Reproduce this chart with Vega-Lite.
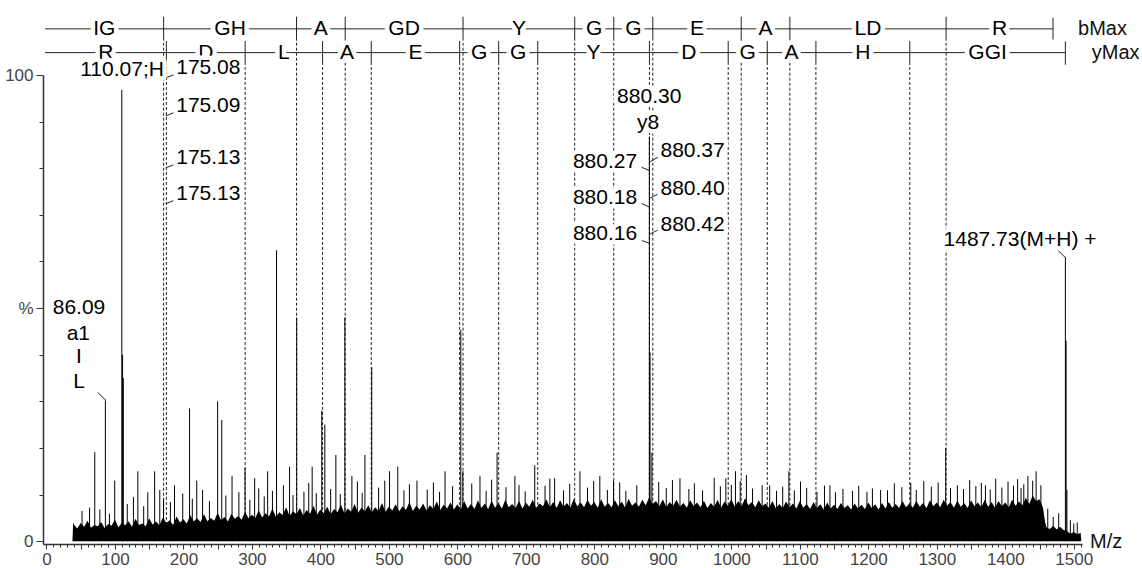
{
"$schema": "https://vega.github.io/schema/vega-lite/v6.json",
"width": 1039, "height": 469,
"autosize": "none",
"padding": {"left": 43, "top": 75, "right": 60, "bottom": 24},
"background": "white",
"config": {"view": {"stroke": null}, "font": "Liberation Sans"},
"datasets": {
"noise": [{"mz":38,"i":0},{"mz":39,"i":4.0},{"mz":40,"i":3.6},{"mz":45,"i":2.7},{"mz":50,"i":3.9},{"mz":55,"i":3.1},{"mz":60,"i":4.4},{"mz":65,"i":2.9},{"mz":70,"i":3.5},{"mz":75,"i":3.2},{"mz":80,"i":4.1},{"mz":85,"i":2.8},{"mz":90,"i":3.7},{"mz":95,"i":3.3},{"mz":100,"i":4.6},{"mz":105,"i":3.0},{"mz":110,"i":3.9},{"mz":115,"i":3.4},{"mz":120,"i":4.3},{"mz":125,"i":3.1},{"mz":130,"i":4.8},{"mz":135,"i":3.5},{"mz":140,"i":3.8},{"mz":145,"i":3.2},{"mz":150,"i":4.9},{"mz":155,"i":3.6},{"mz":160,"i":4.2},{"mz":165,"i":3.4},{"mz":170,"i":5.1},{"mz":175,"i":3.9},{"mz":180,"i":4.5},{"mz":185,"i":3.5},{"mz":190,"i":5.3},{"mz":195,"i":4.0},{"mz":200,"i":4.7},{"mz":205,"i":3.8},{"mz":210,"i":5.6},{"mz":215,"i":4.2},{"mz":220,"i":4.9},{"mz":225,"i":4.1},{"mz":230,"i":5.8},{"mz":235,"i":4.3},{"mz":240,"i":5.0},{"mz":245,"i":4.4},{"mz":250,"i":6.1},{"mz":255,"i":4.5},{"mz":260,"i":5.2},{"mz":265,"i":4.2},{"mz":270,"i":5.9},{"mz":275,"i":4.8},{"mz":280,"i":5.4},{"mz":285,"i":4.6},{"mz":290,"i":6.3},{"mz":295,"i":4.9},{"mz":300,"i":5.7},{"mz":305,"i":5.0},{"mz":310,"i":6.6},{"mz":315,"i":5.1},{"mz":320,"i":6.0},{"mz":325,"i":5.3},{"mz":330,"i":7.0},{"mz":335,"i":5.2},{"mz":340,"i":6.2},{"mz":345,"i":5.6},{"mz":350,"i":7.3},{"mz":355,"i":5.4},{"mz":360,"i":6.4},{"mz":365,"i":5.8},{"mz":370,"i":7.1},{"mz":375,"i":5.5},{"mz":380,"i":6.7},{"mz":385,"i":5.9},{"mz":390,"i":7.6},{"mz":395,"i":5.7},{"mz":400,"i":6.8},{"mz":405,"i":6.0},{"mz":410,"i":7.4},{"mz":415,"i":5.8},{"mz":420,"i":6.9},{"mz":425,"i":6.2},{"mz":430,"i":7.8},{"mz":435,"i":6.0},{"mz":440,"i":7.0},{"mz":445,"i":6.3},{"mz":450,"i":8.0},{"mz":455,"i":6.1},{"mz":460,"i":7.2},{"mz":465,"i":6.4},{"mz":470,"i":7.7},{"mz":475,"i":6.2},{"mz":480,"i":7.3},{"mz":485,"i":6.5},{"mz":490,"i":8.2},{"mz":495,"i":6.3},{"mz":500,"i":7.4},{"mz":505,"i":6.6},{"mz":510,"i":7.9},{"mz":515,"i":6.4},{"mz":520,"i":7.5},{"mz":525,"i":6.7},{"mz":530,"i":8.4},{"mz":535,"i":6.5},{"mz":540,"i":7.6},{"mz":545,"i":6.8},{"mz":550,"i":8.1},{"mz":555,"i":6.6},{"mz":560,"i":7.7},{"mz":565,"i":6.9},{"mz":570,"i":8.5},{"mz":575,"i":6.7},{"mz":580,"i":7.8},{"mz":585,"i":7.0},{"mz":590,"i":8.3},{"mz":595,"i":6.8},{"mz":600,"i":7.9},{"mz":605,"i":6.8},{"mz":610,"i":8.6},{"mz":615,"i":7.0},{"mz":620,"i":8.0},{"mz":625,"i":6.9},{"mz":630,"i":8.8},{"mz":635,"i":7.1},{"mz":640,"i":8.1},{"mz":645,"i":6.9},{"mz":650,"i":8.7},{"mz":655,"i":7.2},{"mz":660,"i":8.2},{"mz":665,"i":7.0},{"mz":670,"i":8.9},{"mz":675,"i":7.3},{"mz":680,"i":8.0},{"mz":685,"i":7.1},{"mz":690,"i":8.6},{"mz":695,"i":7.0},{"mz":700,"i":8.3},{"mz":705,"i":7.4},{"mz":710,"i":8.9},{"mz":715,"i":7.2},{"mz":720,"i":8.1},{"mz":725,"i":7.5},{"mz":730,"i":9.0},{"mz":735,"i":7.3},{"mz":740,"i":8.4},{"mz":745,"i":7.1},{"mz":750,"i":8.8},{"mz":755,"i":7.4},{"mz":760,"i":8.2},{"mz":765,"i":7.2},{"mz":770,"i":9.1},{"mz":775,"i":7.5},{"mz":780,"i":8.3},{"mz":785,"i":7.3},{"mz":790,"i":8.9},{"mz":795,"i":7.6},{"mz":800,"i":8.4},{"mz":805,"i":7.2},{"mz":810,"i":9.0},{"mz":815,"i":7.4},{"mz":820,"i":8.2},{"mz":825,"i":7.3},{"mz":830,"i":8.8},{"mz":835,"i":7.5},{"mz":840,"i":8.5},{"mz":845,"i":7.2},{"mz":850,"i":9.1},{"mz":855,"i":7.6},{"mz":860,"i":8.3},{"mz":865,"i":7.4},{"mz":870,"i":8.9},{"mz":875,"i":7.7},{"mz":880,"i":9.4},{"mz":885,"i":8.0},{"mz":890,"i":8.6},{"mz":895,"i":7.5},{"mz":900,"i":9.0},{"mz":905,"i":7.3},{"mz":910,"i":8.4},{"mz":915,"i":7.6},{"mz":920,"i":8.9},{"mz":925,"i":7.4},{"mz":930,"i":8.2},{"mz":935,"i":7.2},{"mz":940,"i":8.8},{"mz":945,"i":7.5},{"mz":950,"i":8.3},{"mz":955,"i":7.3},{"mz":960,"i":8.7},{"mz":965,"i":7.1},{"mz":970,"i":8.2},{"mz":975,"i":7.4},{"mz":980,"i":8.9},{"mz":985,"i":7.2},{"mz":990,"i":8.5},{"mz":995,"i":7.6},{"mz":1000,"i":9.0},{"mz":1005,"i":7.4},{"mz":1010,"i":8.6},{"mz":1015,"i":7.5},{"mz":1020,"i":9.2},{"mz":1025,"i":7.7},{"mz":1030,"i":8.4},{"mz":1035,"i":7.3},{"mz":1040,"i":8.8},{"mz":1045,"i":7.5},{"mz":1050,"i":8.1},{"mz":1055,"i":7.2},{"mz":1060,"i":8.6},{"mz":1065,"i":7.0},{"mz":1070,"i":8.0},{"mz":1075,"i":7.1},{"mz":1080,"i":8.5},{"mz":1085,"i":7.3},{"mz":1090,"i":8.1},{"mz":1095,"i":7.0},{"mz":1100,"i":8.6},{"mz":1105,"i":7.2},{"mz":1110,"i":8.0},{"mz":1115,"i":6.9},{"mz":1120,"i":8.4},{"mz":1125,"i":7.1},{"mz":1130,"i":7.9},{"mz":1135,"i":6.8},{"mz":1140,"i":8.3},{"mz":1145,"i":7.0},{"mz":1150,"i":7.8},{"mz":1155,"i":6.9},{"mz":1160,"i":8.2},{"mz":1165,"i":7.1},{"mz":1170,"i":7.7},{"mz":1175,"i":6.8},{"mz":1180,"i":8.1},{"mz":1185,"i":7.0},{"mz":1190,"i":7.8},{"mz":1195,"i":6.9},{"mz":1200,"i":8.3},{"mz":1205,"i":7.1},{"mz":1210,"i":7.9},{"mz":1215,"i":6.8},{"mz":1220,"i":8.2},{"mz":1225,"i":7.0},{"mz":1230,"i":8.4},{"mz":1235,"i":7.2},{"mz":1240,"i":8.0},{"mz":1245,"i":7.1},{"mz":1250,"i":8.6},{"mz":1255,"i":7.3},{"mz":1260,"i":8.1},{"mz":1265,"i":7.2},{"mz":1270,"i":8.7},{"mz":1275,"i":7.4},{"mz":1280,"i":8.2},{"mz":1285,"i":7.1},{"mz":1290,"i":8.8},{"mz":1295,"i":7.5},{"mz":1300,"i":8.3},{"mz":1305,"i":7.3},{"mz":1310,"i":8.9},{"mz":1315,"i":7.6},{"mz":1320,"i":8.4},{"mz":1325,"i":7.2},{"mz":1330,"i":8.7},{"mz":1335,"i":7.4},{"mz":1340,"i":8.2},{"mz":1345,"i":7.1},{"mz":1350,"i":8.8},{"mz":1355,"i":7.5},{"mz":1360,"i":8.3},{"mz":1365,"i":7.3},{"mz":1370,"i":8.9},{"mz":1375,"i":7.4},{"mz":1380,"i":8.4},{"mz":1385,"i":7.2},{"mz":1390,"i":8.6},{"mz":1395,"i":7.5},{"mz":1400,"i":8.3},{"mz":1405,"i":7.3},{"mz":1410,"i":8.9},{"mz":1415,"i":7.6},{"mz":1420,"i":8.5},{"mz":1425,"i":7.7},{"mz":1430,"i":9.3},{"mz":1435,"i":8.0},{"mz":1440,"i":9.8},{"mz":1445,"i":8.6},{"mz":1450,"i":9.0},{"mz":1455,"i":7.2},{"mz":1458,"i":4.2},{"mz":1460,"i":3.0},{"mz":1465,"i":2.6},{"mz":1470,"i":3.3},{"mz":1475,"i":2.5},{"mz":1480,"i":3.1},{"mz":1485,"i":2.4},{"mz":1490,"i":2.2},{"mz":1495,"i":1.6},{"mz":1500,"i":2.0},{"mz":1505,"i":1.5},{"mz":1510,"i":1.8},{"mz":1511,"i":0}],
"peaks": [{"mz":70.6,"i":19.1},{"mz":86.09,"i":30.2},{"mz":99.7,"i":13},{"mz":110.07,"i":96.8},{"mz":111.2,"i":40},{"mz":112.3,"i":35},{"mz":133.5,"i":15},{"mz":158,"i":15},{"mz":165.5,"i":11},{"mz":187,"i":12},{"mz":209,"i":28.5},{"mz":219.5,"i":13},{"mz":250,"i":30},{"mz":256,"i":26},{"mz":271,"i":14},{"mz":290,"i":15.7},{"mz":304,"i":13.5},{"mz":323,"i":15},{"mz":336,"i":62.4},{"mz":355,"i":16},{"mz":365.5,"i":47.9},{"mz":388,"i":16},{"mz":402,"i":28},{"mz":406.5,"i":25},{"mz":422.6,"i":18.5},{"mz":435.7,"i":48},{"mz":446,"i":14},{"mz":465,"i":18.5},{"mz":475,"i":37.3},{"mz":501,"i":15},{"mz":513,"i":16},{"mz":541,"i":13},{"mz":582,"i":15},{"mz":605,"i":45.3},{"mz":608,"i":15},{"mz":633,"i":14},{"mz":658,"i":19},{"mz":684,"i":14},{"mz":713,"i":16.3},{"mz":742,"i":13.5},{"mz":779,"i":15},{"mz":808,"i":14},{"mz":828,"i":13},{"mz":880.3,"i":86.8},{"mz":881.3,"i":40.5},{"mz":884,"i":19},{"mz":925,"i":13.5},{"mz":992,"i":13.5},{"mz":1006,"i":15},{"mz":1056,"i":12},{"mz":1084,"i":15},{"mz":1144,"i":12},{"mz":1218,"i":11},{"mz":1313,"i":20},{"mz":1371,"i":12},{"mz":1423,"i":11.4},{"mz":1440,"i":13},{"mz":1487.73,"i":61},{"mz":1488.8,"i":43},{"mz":1490,"i":11},
{"mz":52,"i":6.5},{"mz":63,"i":7.2},{"mz":78,"i":6.8},{"mz":92,"i":5.9},{"mz":118,"i":8.0},{"mz":127,"i":9.5},{"mz":142,"i":7.5},{"mz":148,"i":10.5},{"mz":171,"i":9.0},{"mz":181,"i":8.4},{"mz":199,"i":10.2},{"mz":213,"i":9.1},{"mz":228,"i":11.0},{"mz":238,"i":8.6},{"mz":262,"i":9.8},{"mz":281,"i":10.5},{"mz":297,"i":8.9},{"mz":310,"i":11.3},{"mz":318,"i":9.6},{"mz":330,"i":10.8},{"mz":346,"i":12.0},{"mz":360,"i":9.9},{"mz":376,"i":10.6},{"mz":383,"i":12.5},{"mz":394,"i":10.3},{"mz":415,"i":11.2},{"mz":429,"i":10.1},{"mz":454,"i":12.8},{"mz":461,"i":10.4},{"mz":485,"i":11.5},{"mz":494,"i":13.0},{"mz":522,"i":10.9},{"mz":530,"i":12.2},{"mz":556,"i":11.1},{"mz":565,"i":12.6},{"mz":574,"i":10.6},{"mz":593,"i":11.8},{"mz":621,"i":12.4},{"mz":642,"i":10.8},{"mz":650,"i":13.2},{"mz":671,"i":11.6},{"mz":690,"i":12.1},{"mz":699,"i":10.7},{"mz":728,"i":11.9},{"mz":735,"i":13.4},{"mz":755,"i":10.9},{"mz":764,"i":12.3},{"mz":790,"i":11.5},{"mz":799,"i":12.9},{"mz":819,"i":11.0},{"mz":837,"i":12.6},{"mz":846,"i":10.8},{"mz":862,"i":12.0},{"mz":894,"i":12.7},{"mz":905,"i":11.4},{"mz":914,"i":13.1},{"mz":938,"i":11.2},{"mz":946,"i":12.4},{"mz":958,"i":10.9},{"mz":975,"i":13.6},{"mz":984,"i":11.8},{"mz":1000,"i":12.1},{"mz":1013,"i":12.9},{"mz":1022,"i":14.2},{"mz":1031,"i":11.3},{"mz":1045,"i":12.0},{"mz":1066,"i":10.8},{"mz":1075,"i":11.7},{"mz":1092,"i":10.9},{"mz":1101,"i":12.8},{"mz":1110,"i":11.4},{"mz":1125,"i":10.6},{"mz":1136,"i":11.9},{"mz":1152,"i":10.5},{"mz":1163,"i":11.2},{"mz":1177,"i":10.8},{"mz":1186,"i":11.9},{"mz":1198,"i":10.6},{"mz":1206,"i":11.3},{"mz":1228,"i":10.9},{"mz":1238,"i":12.4},{"mz":1249,"i":11.6},{"mz":1262,"i":12.5},{"mz":1270,"i":11.0},{"mz":1281,"i":12.9},{"mz":1292,"i":11.7},{"mz":1302,"i":12.6},{"mz":1320,"i":11.4},{"mz":1330,"i":12.0},{"mz":1339,"i":11.2},{"mz":1348,"i":13.1},{"mz":1357,"i":11.8},{"mz":1365,"i":12.5},{"mz":1378,"i":11.1},{"mz":1386,"i":13.4},{"mz":1395,"i":11.5},{"mz":1404,"i":12.8},{"mz":1412,"i":11.9},{"mz":1418,"i":13.3},{"mz":1427,"i":12.2},{"mz":1433,"i":14.0},{"mz":1445,"i":15.0},{"mz":1452,"i":12.0},{"mz":1462,"i":7.0},{"mz":1470,"i":5.2},{"mz":1478,"i":6.0},{"mz":1495,"i":4.5},{"mz":1500,"i":3.8},{"mz":1505,"i":4.0}],
"dash": [{"mz":171.11,"i":108.0},{"mz":365.19,"i":108.0},{"mz":436.23,"i":108.0},{"mz":608.28,"i":108.0},{"mz":771.34,"i":108.0},{"mz":828.36,"i":108.0},{"mz":885.38,"i":108.0},{"mz":1014.42,"i":108.0},{"mz":1085.46,"i":108.0},{"mz":1313.57,"i":108.0},{"mz":175.12,"i":102.8},{"mz":290.15,"i":102.8},{"mz":403.23,"i":102.8},{"mz":474.27,"i":102.8},{"mz":603.31,"i":102.8},{"mz":660.33,"i":102.8},{"mz":717.35,"i":102.8},{"mz":880.42,"i":102.8},{"mz":995.45,"i":102.8},{"mz":1052.47,"i":102.8},{"mz":1123.51,"i":102.8},{"mz":1260.57,"i":102.8}],
"hline": [{"mz":-2,"mz2":1469.67,"i":109.9},{"mz":-2,"mz2":1487.69,"i":104.8}],
"tick": [{"mz":171.11,"i":112.5,"i2":108.0},{"mz":365.19,"i":112.5,"i2":108.0},{"mz":436.23,"i":112.5,"i2":108.0},{"mz":608.28,"i":112.5,"i2":108.0},{"mz":771.34,"i":112.5,"i2":108.0},{"mz":828.36,"i":112.5,"i2":108.0},{"mz":885.38,"i":112.5,"i2":108.0},{"mz":1014.42,"i":112.5,"i2":108.0},{"mz":1085.46,"i":112.5,"i2":108.0},{"mz":1313.57,"i":112.5,"i2":108.0},{"mz":1469.67,"i":112.3,"i2":107.6},{"mz":175.12,"i":107.3,"i2":102.8},{"mz":290.15,"i":107.3,"i2":102.8},{"mz":403.23,"i":107.3,"i2":102.8},{"mz":474.27,"i":107.3,"i2":102.8},{"mz":603.31,"i":107.3,"i2":102.8},{"mz":660.33,"i":107.3,"i2":102.8},{"mz":717.35,"i":107.3,"i2":102.8},{"mz":880.42,"i":107.3,"i2":102.8},{"mz":995.45,"i":107.3,"i2":102.8},{"mz":1052.47,"i":107.3,"i2":102.8},{"mz":1123.51,"i":107.3,"i2":102.8},{"mz":1260.57,"i":107.3,"i2":102.8},{"mz":1487.69,"i":107.2,"i2":102.2}],
"conn": [{"mz":74.9,"i":31.9,"mz2":87.0,"i2":30.2},{"mz":174.2,"i":99.4,"mz2":190.3,"i2":100.3},{"mz":174.2,"i":91.2,"mz2":190.3,"i2":92.2},{"mz":174.2,"i":80.1,"mz2":190.3,"i2":81.0},{"mz":174.2,"i":72.4,"mz2":190.3,"i2":73.3},{"mz":869.2,"i":80.2,"mz2":880.3,"i2":79.5},{"mz":869.2,"i":72.4,"mz2":880.3,"i2":71.7},{"mz":869.2,"i":64.5,"mz2":880.3,"i2":63.9},{"mz":881.3,"i":81.4,"mz2":893.4,"i2":82.4},{"mz":881.3,"i":73.6,"mz2":893.4,"i2":74.5},{"mz":881.3,"i":65.9,"mz2":893.4,"i2":66.8},{"mz":1477,"i":62.4,"mz2":1487.2,"i2":60.9}],
"lab1": [{"mz":84.56,"i":109.9,"t":"IG"},{"mz":268.15,"i":109.9,"t":"GH"},{"mz":400.71,"i":109.9,"t":"A"},{"mz":522.26,"i":109.9,"t":"GD"},{"mz":689.81,"i":109.9,"t":"Y"},{"mz":799.85,"i":109.9,"t":"G"},{"mz":856.87,"i":109.9,"t":"G"},{"mz":949.9,"i":109.9,"t":"E"},{"mz":1049.94,"i":109.9,"t":"A"},{"mz":1199.52,"i":109.9,"t":"LD"},{"mz":1391.62,"i":109.9,"t":"R"},{"mz":86.56,"i":104.8,"t":"R"},{"mz":232.64,"i":104.8,"t":"D"},{"mz":346.69,"i":104.8,"t":"L"},{"mz":438.75,"i":104.8,"t":"A"},{"mz":538.79,"i":104.8,"t":"E"},{"mz":631.82,"i":104.8,"t":"G"},{"mz":688.84,"i":104.8,"t":"G"},{"mz":798.89,"i":104.8,"t":"Y"},{"mz":937.94,"i":104.8,"t":"D"},{"mz":1023.96,"i":104.8,"t":"G"},{"mz":1087.99,"i":104.8,"t":"A"},{"mz":1192.04,"i":104.8,"t":"H"},{"mz":1374.13,"i":104.8,"t":"GGI"}],
"lab2": [{"mz":47.6,"i":50.1,"t":"86.09"},{"mz":46.6,"i":44.4,"t":"a1"},{"mz":47.6,"i":39.5,"t":"I"},{"mz":47.6,"i":34.1,"t":"L"},{"mz":110.4,"i":101.1,"t":"110.07;H"},{"mz":236.4,"i":101.5,"t":"175.08"},{"mz":236.4,"i":93.4,"t":"175.09"},{"mz":236.4,"i":82.2,"t":"175.13"},{"mz":236.4,"i":74.5,"t":"175.13"},{"mz":880.1,"i":95.3,"t":"880.30"},{"mz":878.4,"i":89.7,"t":"y8"},{"mz":815.6,"i":81.4,"t":"880.27"},{"mz":815.6,"i":73.6,"t":"880.18"},{"mz":815.6,"i":65.9,"t":"880.16"},{"mz":943.4,"i":83.6,"t":"880.37"},{"mz":943.4,"i":75.5,"t":"880.40"},{"mz":943.4,"i":67.9,"t":"880.42"},{"mz":1421.5,"i":64.6,"t":"1487.73(M+H) +"}],
"side": [{"mz":1506.2,"i":109.9,"t":"bMax"},{"mz":1526.2,"i":104.8,"t":"yMax"},{"mz":1523.7,"i":-0.2,"t":"M/z"}]
},
"encoding": {
"x": {"field": "mz", "type": "quantitative",
  "scale": {"domain": [-5, 1512], "nice": false, "zero": false},
  "axis": {"title": null, "grid": false,
    "values": [0,10,20,30,40,50,60,70,80,90,100,110,120,130,140,150,160,170,180,190,200,210,220,230,240,250,260,270,280,290,300,310,320,330,340,350,360,370,380,390,400,410,420,430,440,450,460,470,480,490,500,510,520,530,540,550,560,570,580,590,600,610,620,630,640,650,660,670,680,690,700,710,720,730,740,750,760,770,780,790,800,810,820,830,840,850,860,870,880,890,900,910,920,930,940,950,960,970,980,990,1000,1010,1020,1030,1040,1050,1060,1070,1080,1090,1100,1110,1120,1130,1140,1150,1160,1170,1180,1190,1200,1210,1220,1230,1240,1250,1260,1270,1280,1290,1300,1310,1320,1330,1340,1350,1360,1370,1380,1390,1400,1410,1420,1430,1440,1450,1460,1470,1480,1490,1500,1510],
    "labelExpr": "datum.value % 100 === 0 ? '' + datum.value : ''",
    "labelOverlap": false, "labelFlush": false,
    "labelFont": "Liberation Sans", "labelFontSize": 17, "labelColor": "#444",
    "labelPadding": 2,
    "tickSize": {"condition": {"test": "datum.value % 50 === 0", "value": 5}, "value": 3},
    "tickColor": "#333", "domainColor": "#333", "domainWidth": 1.5}},
"y": {"field": "i", "type": "quantitative",
  "scale": {"domain": [-0.6, 100], "nice": false, "zero": false},
  "axis": {"title": null, "grid": false,
    "values": [0,10,20,30,40,50,60,70,80,90,100],
    "labelExpr": "datum.value === 50 ? '%' : ((datum.value === 0 || datum.value === 100) ? '' + datum.value : '')",
    "labelOverlap": false, "labelFlush": false,
    "labelFont": "Liberation Sans", "labelFontSize": 17, "labelColor": "#444",
    "labelPadding": 3,
    "tickSize": {"condition": {"test": "datum.value % 50 === 0", "value": 7}, "value": 4},
    "tickColor": "#333", "domainColor": "#333", "domainWidth": 1.5}}
},
"layer": [
{"data": {"name": "dash"}, "mark": {"type": "rule", "color": "#222", "strokeWidth": 1, "strokeDash": [3, 2]},
 "encoding": {"y2": {"datum": 0}}},
{"data": {"name": "noise"}, "mark": {"type": "area", "color": "#000", "interpolate": "linear"},
 "encoding": {"y2": {"datum": 0}}},
{"data": {"name": "peaks"}, "mark": {"type": "rule", "color": "#000", "strokeWidth": 1},
 "encoding": {"y2": {"datum": 0}}},
{"data": {"name": "hline"}, "mark": {"type": "rule", "color": "#222", "strokeWidth": 1},
 "encoding": {"x2": {"field": "mz2"}}},
{"data": {"name": "tick"}, "mark": {"type": "rule", "color": "#222", "strokeWidth": 1},
 "encoding": {"y2": {"field": "i2"}}},
{"data": {"name": "conn"}, "mark": {"type": "rule", "color": "#222", "strokeWidth": 1},
 "encoding": {"x2": {"field": "mz2"}, "y2": {"field": "i2"}}},
{"data": {"name": "lab1"}, "mark": {"type": "text", "font": "Liberation Sans", "fontSize": 21, "fill": "white", "stroke": "white", "strokeWidth": 9, "strokeJoin": "round", "baseline": "middle"},
 "encoding": {"text": {"field": "t"}}},
{"data": {"name": "lab1"}, "mark": {"type": "text", "font": "Liberation Sans", "fontSize": 21, "fill": "#000", "baseline": "middle"},
 "encoding": {"text": {"field": "t"}}},
{"data": {"name": "lab2"}, "mark": {"type": "text", "font": "Liberation Sans", "fontSize": 21, "fill": "white", "stroke": "white", "strokeWidth": 9, "strokeJoin": "round", "baseline": "middle"},
 "encoding": {"text": {"field": "t"}}},
{"data": {"name": "lab2"}, "mark": {"type": "text", "font": "Liberation Sans", "fontSize": 21, "fill": "#000", "baseline": "middle"},
 "encoding": {"text": {"field": "t"}}},
{"data": {"name": "side"}, "mark": {"type": "text", "font": "Liberation Sans", "fontSize": 20, "fill": "#111", "align": "left", "baseline": "middle"},
 "encoding": {"text": {"field": "t"}}}
]
}
